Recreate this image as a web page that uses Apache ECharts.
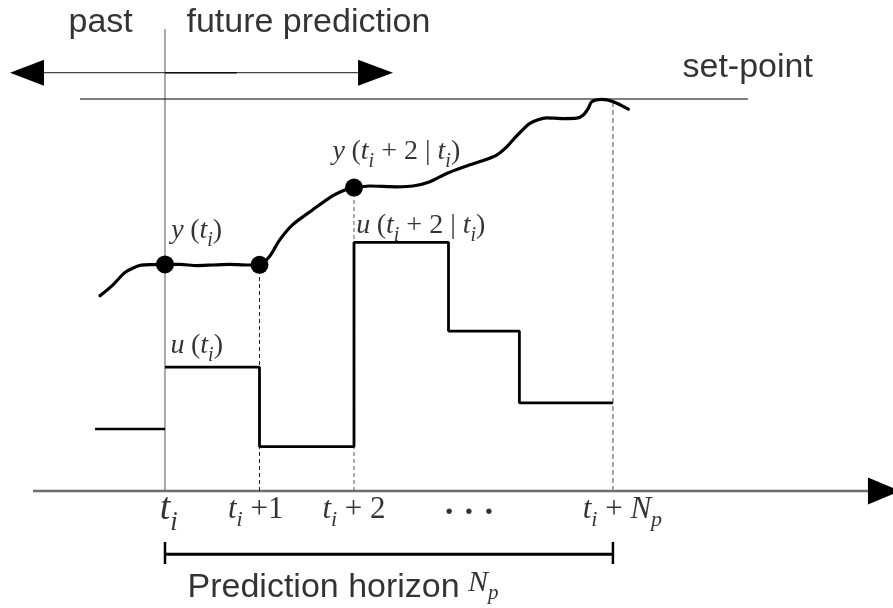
<!DOCTYPE html>
<html><head><meta charset="utf-8">
<script src="https://cdn.jsdelivr.net/npm/echarts@6/dist/echarts.min.js"></script>
<style>html,body{margin:0;padding:0;background:#fff}#c{width:893px;height:608px}</style>
</head><body><div id="c"></div>
<script>
// ---------- data (time in samples, t_i = 0; output/input in arbitrary units, axis = 0) ----------
const sampleTimes   = [0, 1, 2];
const sampleOutputs = [5.78, 5.77, 7.74];
const horizonEnd = 4.74;           // t_i + N_p
const setPoint = 10;
const outputX = [-0.688,-0.55,-0.42,-0.25,0,0.159,0.335,0.508,0.688,0.865,1.0,1.106,1.212,1.349,1.561,1.772,1.923,2.0,2.164,2.452,2.624,2.804,2.981,3.153,3.368,3.510,3.616,3.722,3.862,4.039,4.215,4.357,4.426,4.479,4.515,4.621,4.744,4.903];
const outputY = [4.98,5.26,5.58,5.76,5.78,5.78,5.75,5.765,5.78,5.765,5.77,5.98,6.40,6.79,7.17,7.53,7.70,7.74,7.78,7.76,7.78,7.89,8.10,8.26,8.43,8.57,8.78,9.06,9.38,9.52,9.50,9.51,9.59,9.76,9.93,9.99,9.93,9.74];
const pastInputX = [-0.74, 0];
const pastInputY = [1.58, 1.58];
const inputX = [0, 1, 2, 3, 3.75, 4.74];
const inputY = [3.16, 1.13, 6.34, 4.08, 2.25, 2.25];
const tickValues = [0, 1, 2, 3.2, 4.74];
const tickLabels = ['{M|t}{S|i}', '{m|t}{s|i}{r| +1}', '{m|t}{s|i}{r| + 2}', '{d|· · ·}', '{m|t}{s|i}{r| + }{m|N}{s|p}'];
const topTexts = ['past', 'future prediction', 'set-point', 'Prediction horizon'];

// ---------- layout ----------
const L = {
  xMin: -1.746, xMax: 7.7037, yMin: -2.9847, yMax: 12.5255,
  axisStart: -1.397, axisEnd: 7.45, axisArrowX: 7.608,
  tiTop: 11.786,
  arrowY: 10.671, arrowL: -1.28, arrowR: 2.042, arrowHeadL: -1.46, arrowHeadR: 2.228,
  spL: -0.899, spR: 6.169,
  bracketY: -1.615, bracketTop: -1.30, bracketBot: -1.862,
  tickLabelY: -0.561, tickLabelX: [0.04, 0.96, 2.0, 3.217, 4.84],
  textY: 11.939, pastX: -1.026, futureX: 0.222, spTextX: 5.471, spTextY: 10.79,
  horizonX: 0.233, horizonY: -2.474, npX: 3.2, npY: -2.43
};

function mathRich(F, prefix) {
  const S = Math.round(F * 0.7), LH = Math.round(F * 1.2), d = Math.round(F * 0.12);
  const base = {fontFamily: 'Liberation Serif', fontSize: F, lineHeight: LH, padding: [0, 0, d, 0], verticalAlign: 'top', color: '#000'};
  const o = {};
  o[prefix.m] = Object.assign({}, base, {fontStyle: 'italic'});
  o[prefix.r] = Object.assign({}, base);
  o[prefix.g] = Object.assign({}, base, {fontSize: Math.round(F * 0.45)});
  o[prefix.s] = {fontFamily: 'Liberation Serif', fontStyle: 'italic', fontSize: S, lineHeight: S, verticalAlign: 'bottom', color: '#000'};
  return o;
}
const richSmall = mathRich(28, {m: 'm', r: 'r', s: 's', g: 'g'});
const richTick = Object.assign({}, mathRich(31, {m: 'm', r: 'r', s: 's', g: 'g'}), mathRich(38, {m: 'M', r: 'R', s: 'S', g: 'G'}),
  {d: {fontFamily: 'Liberation Serif', fontSize: 34, fontWeight: 'bold', color: '#000'}});
const richNp = mathRich(30, {m: 'm', r: 'r', s: 's', g: 'g'});
const richSans = {t: {fontFamily: 'Liberation Sans', fontSize: 34, color: '#000'}};

function seg(points, color, width, type, z) {
  return {type: 'line', data: points, showSymbol: false, symbol: 'none', silent: true, animation: false, z: z || 2,
    lineStyle: {color: color, width: width, type: type || 'solid', cap: 'butt', opacity: 1}};
}
function textItem(x, y, fmt, rich, pos) {
  return {value: [x, y], label: {show: true, formatter: fmt, rich: rich, color: '#000', position: pos || 'right', distance: 0,
    align: pos === 'inside' ? 'center' : 'left', verticalAlign: 'middle'}};
}

const series = [];
// time axis
series.push(seg([[L.axisStart, 0], [L.axisEnd, 0]], '#6e6e6e', 2.5));
// vertical line at t_i
series.push(seg([[0, 0], [0, L.tiTop]], '#555', 1));
// top past/future arrow
series.push(seg([[L.arrowL, L.arrowY], [L.arrowR, L.arrowY]], '#444', 1.3));
series.push(seg([[0, L.arrowY], [0.76, L.arrowY]], '#111', 1.5));
// set-point
series.push(seg([[L.spL, setPoint], [L.spR, setPoint]], '#000', 1.2));
// dashed sample lines
series.push(seg([[sampleTimes[1], 0], [sampleTimes[1], sampleOutputs[1]]], '#222', 1, [4, 3]));
series.push(seg([[sampleTimes[2], 0], [sampleTimes[2], sampleOutputs[2]]], '#555', 1, [4, 3]));
series.push(seg([[horizonEnd, 0], [horizonEnd, 9.93]], '#888', 1.5, [5, 3]));
// prediction horizon bracket
series.push(seg([[0, L.bracketY], [horizonEnd, L.bracketY]], '#000', 3));
series.push(seg([[0, L.bracketTop], [0, L.bracketBot]], '#000', 2.5));
series.push(seg([[horizonEnd, L.bracketTop], [horizonEnd, L.bracketBot]], '#000', 2.5));
// past input
series.push(seg(pastInputX.map((x, i) => [x, pastInputY[i]]), '#000', 2.5, 'solid', 3));
// future inputs (piecewise constant)
const uSeries = seg(inputX.map((x, i) => [x, inputY[i]]), '#000', 2.8, 'solid', 3);
uSeries.step = 'end';
series.push(uSeries);
// output trajectory
const ySeries = seg(outputX.map((x, i) => [x, outputY[i]]), '#000', 3.2, 'solid', 4);
ySeries.smooth = 0.25;
ySeries.lineStyle.cap = 'round';
series.push(ySeries);
// sample dots
series.push({type: 'scatter', silent: true, animation: false, z: 5, symbolSize: 18, itemStyle: {color: '#000', opacity: 1},
  data: sampleTimes.map((t, i) => [t, sampleOutputs[i]])});
// arrow heads
series.push({type: 'scatter', silent: true, animation: false, z: 5, symbol: 'triangle', itemStyle: {color: '#000', opacity: 1},
  data: [
    {value: [L.axisArrowX, 0], symbolSize: [27, 32], symbolRotate: -90},
    {value: [L.arrowHeadL, L.arrowY], symbolSize: [26, 34], symbolRotate: 90},
    {value: [L.arrowHeadR, L.arrowY], symbolSize: [26, 35], symbolRotate: -90}
  ]});
// math annotations
series.push({type: 'scatter', silent: true, animation: false, z: 6, symbolSize: 1, itemStyle: {color: 'transparent'},
  data: [
    textItem(0.061, 6.574, '{m|y}{g|  }{r|(}{m|t}{s|i}{r|)}', richSmall),
    textItem(0.053, 3.622, '{m|u}{g|  }{r|(}{m|t}{s|i}{r|)}', richSmall),
    textItem(1.768, 8.571, '{m|y}{g|  }{r|(}{m|t}{s|i}{r| + 2 | }{m|t}{s|i}{r|)}', richSmall),
    textItem(2.018, 6.684, '{m|u}{g|  }{r|(}{m|t}{s|i}{r| + 2 | }{m|t}{s|i}{r|)}', richSmall),
    textItem(L.npX, L.npY, '{m|N}{s|p}', richNp)
  ].concat(tickLabels.map((lab, i) => textItem(L.tickLabelX[i], L.tickLabelY, lab, richTick, 'inside')))
});
// sans texts
series.push({type: 'scatter', silent: true, animation: false, z: 6, symbolSize: 1, itemStyle: {color: 'transparent'},
  data: [
    textItem(L.pastX, L.textY, '{t|' + topTexts[0] + '}', richSans),
    textItem(L.futureX, L.textY, '{t|' + topTexts[1] + '}', richSans),
    textItem(L.spTextX, L.spTextY, '{t|' + topTexts[2] + '}', richSans),
    textItem(L.horizonX, L.horizonY, '{t|' + topTexts[3] + '}', richSans)
  ]});

const chart = echarts.init(document.getElementById('c'), null, {renderer: 'canvas'});
chart.setOption({
  animation: false,
  backgroundColor: '#fff',
  grid: {left: 0, right: 0, top: 0, bottom: 0},
  xAxis: {type: 'value', min: L.xMin, max: L.xMax, show: false},
  yAxis: {type: 'value', min: L.yMin, max: L.yMax, show: false},
  series: series
});
</script></body></html>
